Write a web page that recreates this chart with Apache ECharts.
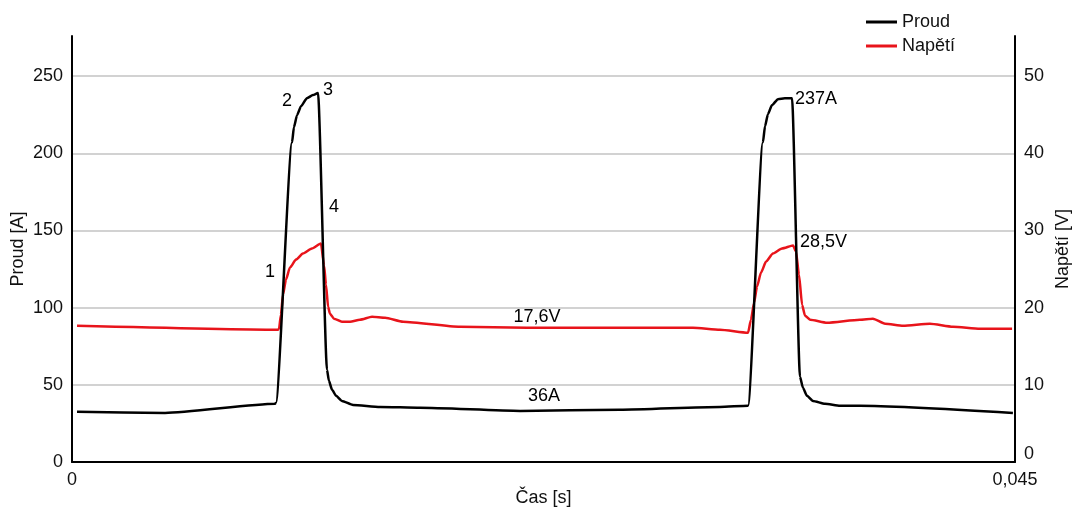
<!DOCTYPE html>
<html>
<head>
<meta charset="utf-8">
<script src="https://cdn.jsdelivr.net/npm/echarts@6/dist/echarts.min.js"></script>
<style>
  html, body { margin: 0; padding: 0; background: #fff; }
  #chart { width: 1073px; height: 508px; }
</style>
</head>
<body>
<div id="chart"></div>
<script>
// time [s] / current [A]
const proudT = [0.00024, 0.00444, 0.00969, 0.00973, 0.01050, 0.01059, 0.01074, 0.01093, 0.01121,
  0.01150, 0.01174, 0.01217, 0.01226, 0.01241, 0.01260, 0.01288, 0.01341, 0.01470, 0.01661,
  0.02138, 0.02615, 0.03092, 0.03226, 0.03297, 0.03307, 0.03321, 0.03340, 0.03369, 0.03402,
  0.03436, 0.03474, 0.03488, 0.03507, 0.03536, 0.03593, 0.03665, 0.03760, 0.04490];
const proudA = [32.5, 31.8, 37.7, 38.3, 207.1, 216.9, 224.7, 230.5, 235.7,
  237.7, 239.0, 59.7, 52.6, 46.8, 42.9, 39.6, 37.0, 35.7, 35.1,
  33.1, 33.8, 35.7, 36.4, 207.1, 217.5, 225.3, 231.2, 235.1, 235.7,
  235.7, 55.2, 48.1, 42.9, 39.6, 37.7, 36.4, 36.4, 31.8];

// time [s] / voltage [V]
const napetiT = [0.00024, 0.00983, 0.00988, 0.00997, 0.01007, 0.01021, 0.01040, 0.01069, 0.01102,
  0.01145, 0.01188, 0.01203, 0.01212, 0.01222, 0.01231, 0.01250, 0.01288, 0.01327, 0.01374,
  0.01432, 0.01494, 0.01580, 0.01852, 0.02171, 0.02648, 0.02963, 0.03092, 0.03226, 0.03240,
  0.03255, 0.03269, 0.03288, 0.03312, 0.03345, 0.03388, 0.03441, 0.03455, 0.03469, 0.03484,
  0.03498, 0.03522, 0.03603, 0.03760, 0.03822, 0.03880, 0.03966, 0.04094, 0.04204, 0.04333, 0.04486];
const napetiV = [17.66, 17.14, 17.27, 19.09, 21.69, 23.64, 25.19, 26.23, 27.01,
  27.66, 28.31, 25.45, 22.99, 20.13, 19.22, 18.57, 18.18, 18.18, 18.44,
  18.83, 18.70, 18.18, 17.53, 17.40, 17.40, 17.40, 17.14, 16.75, 18.44,
  20.65, 22.73, 24.55, 25.97, 27.01, 27.66, 28.05, 27.27, 24.29, 20.39,
  18.96, 18.44, 18.05, 18.44, 18.57, 17.92, 17.66, 17.92, 17.53, 17.27, 17.27];

// annotations (placed in current-axis units)
const noteText = ['1', '2', '3', '4', '237A', '28,5V', '17,6V', '36A'];
const noteT    = [0.00945, 0.01026, 0.01222, 0.01250, 0.0345, 0.03474, 0.02219, 0.02252];
const noteA    = [123.4, 233.8, 240.9, 164.9, 235, 142.2, 94.2, 42.9];
const notePos  = ['inside', 'inside', 'inside', 'inside', 'right', 'right', 'inside', 'inside'];

const xTicks = [0, 0.045];

const font = "'Liberation Sans', Arial, sans-serif";
const txt = '#111';
const fs = 18;

const chart = echarts.init(document.getElementById('chart'));

const zip = (a, b) => a.map((v, i) => [v, b[i]]);

chart.setOption({
  animation: false,
  textStyle: { fontFamily: font },
  legend: {
    data: ['Proud', 'Napětí'],
    orient: 'vertical',
    left: 861,
    top: 8,
    icon: 'rect',
    itemWidth: 31,
    itemHeight: 3,
    itemGap: 6,
    textStyle: { fontSize: fs, color: txt, fontFamily: font }
  },
  grid: { left: 72, right: 58, top: 36, bottom: 46, outerBoundsMode: 'none' },
  xAxis: {
    type: 'value',
    min: xTicks[0],
    max: xTicks[1],
    interval: xTicks[1],
    name: 'Čas [s]',
    nameLocation: 'middle',
    nameGap: 27,
    nameMoveOverlap: false,
    nameTextStyle: { fontSize: fs, color: txt },
    axisLine: { lineStyle: { color: '#000', width: 2 } },
    axisTick: { show: false },
    splitLine: { show: false },
    axisLabel: { fontSize: fs, color: txt, margin: 9,
      formatter: v => String(v).replace('.', ',') }
  },
  yAxis: [{
    type: 'value',
    min: 0,
    max: 276,
    interval: 50,
    name: 'Proud [A]',
    nameLocation: 'middle',
    nameRotate: 90,
    nameGap: 45,
    nameMoveOverlap: false,
    nameTextStyle: { fontSize: fs, color: txt },
    axisLine: { show: true, lineStyle: { color: '#000', width: 2 } },
    axisTick: { show: false },
    axisLabel: { fontSize: fs, color: txt, margin: 9, showMaxLabel: false },
    splitLine: { show: true, showMaxLine: false, lineStyle: { color: '#d2d2d2', width: 2 } }
  }, {
    type: 'value',
    min: 0,
    max: 55.2,
    interval: 10,
    position: 'right',
    name: 'Napětí [V]',
    nameLocation: 'middle',
    nameRotate: 90,
    nameGap: 39,
    nameMoveOverlap: false,
    nameTextStyle: { fontSize: fs, color: txt },
    axisLine: { show: true, lineStyle: { color: '#000', width: 2 } },
    axisTick: { show: false },
    axisLabel: { fontSize: fs, color: txt, margin: 9, showMaxLabel: false,
      formatter: v => v === 0 ? '{z|0}' : String(v),
      rich: { z: { fontSize: fs, color: txt, padding: [0, 0, 16, 0] } } },
    splitLine: { show: false }
  }],
  series: [{
    name: 'Proud',
    type: 'line',
    yAxisIndex: 0,
    symbol: 'none',
    smooth: 0.2,
    smoothMonotone: 'x',
    color: '#000',
    lineStyle: { color: '#000', width: 2.5 },
    data: zip(proudT, proudA),
    z: 3
  }, {
    name: 'Napětí',
    type: 'line',
    yAxisIndex: 1,
    symbol: 'none',
    smooth: 0.2,
    smoothMonotone: 'x',
    color: '#e8141b',
    lineStyle: { color: '#e8141b', width: 2.5 },
    data: zip(napetiT, napetiV),
    z: 2
  }, {
    name: 'popisky',
    type: 'scatter',
    yAxisIndex: 0,
    symbolSize: 0,
    silent: true,
    itemStyle: { opacity: 1 },
    z: 5,
    data: noteText.map((s, i) => ({
      name: s,
      value: [noteT[i], noteA[i]],
      label: { show: true, position: notePos[i], distance: 0,
        formatter: s, fontSize: fs, color: '#000', fontFamily: font }
    }))
  }]
});
</script>
</body>
</html>
